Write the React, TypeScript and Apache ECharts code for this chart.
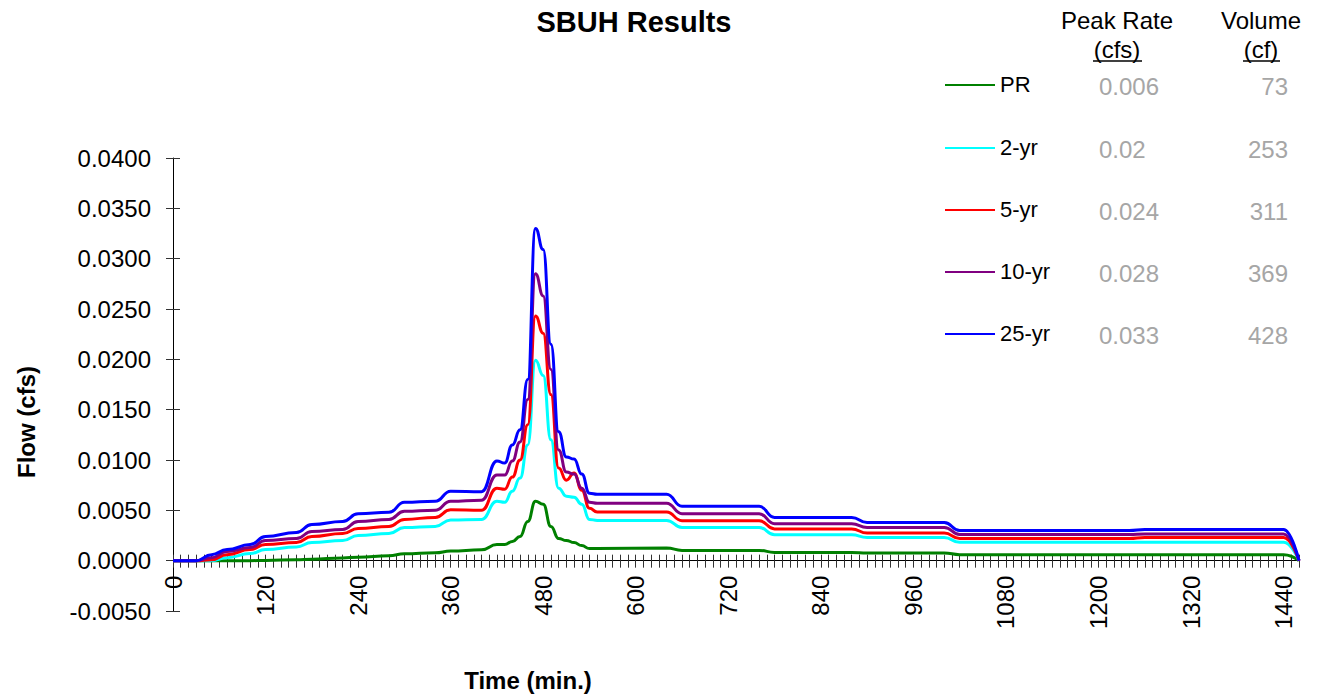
import React, { useEffect, useRef } from "react";
import * as echarts from "echarts";

const FONT = '"Liberation Sans", Arial, Helvetica, sans-serif';

// time (min.)
const TIME = [0, 30, 50, 70, 100, 120, 160, 180, 220, 240, 280, 300, 340, 360, 400, 420, 430, 440, 450, 460, 470, 480, 490, 500, 510, 520, 530, 540, 550, 640, 660, 760, 780, 880, 900, 1000, 1020, 1240, 1260, 1440, 1460];

// flow (cfs)
const PR = [0, 0, 0, 0, 0, 0.00002, 0.0001, 0.00015, 0.00026, 0.00035, 0.0005, 0.00068, 0.00078, 0.00095, 0.00108, 0.0016, 0.0016, 0.0019, 0.0024, 0.0039, 0.0059, 0.0056, 0.0034, 0.0022, 0.002, 0.0018, 0.0015, 0.0012, 0.00122, 0.00126, 0.00102, 0.00102, 0.00082, 0.00082, 0.00076, 0.00076, 0.0006, 0.0006, 0.0006, 0.0006, 0];
const YR2 = [0, 0, 0, 0.0003, 0.0007, 0.0011, 0.00136, 0.0018, 0.002, 0.0025, 0.0027, 0.0033, 0.0034, 0.00405, 0.0041, 0.0059, 0.0058, 0.0069, 0.0082, 0.0115, 0.0199, 0.0184, 0.012, 0.0072, 0.0064, 0.0063, 0.0056, 0.0041, 0.004, 0.004, 0.0033, 0.0033, 0.00258, 0.00258, 0.00231, 0.00231, 0.00182, 0.00182, 0.00182, 0.00182, 0];
const YR5 = [0, 0, 0.0001, 0.0006, 0.0011, 0.0016, 0.0018, 0.0024, 0.0027, 0.0032, 0.0034, 0.0041, 0.0043, 0.00505, 0.005, 0.0072, 0.0071, 0.0083, 0.01, 0.0135, 0.0243, 0.0226, 0.0165, 0.0092, 0.008, 0.0087, 0.007, 0.0052, 0.00483, 0.00483, 0.00397, 0.00397, 0.00315, 0.00315, 0.00275, 0.00275, 0.0022, 0.0022, 0.0023, 0.0023, 0];
const YR10 = [0, 0, 0.0003, 0.0009, 0.0013, 0.002, 0.0022, 0.0029, 0.0031, 0.0039, 0.0041, 0.0049, 0.005, 0.0059, 0.006, 0.0085, 0.0085, 0.0099, 0.0118, 0.016, 0.0285, 0.0263, 0.019, 0.011, 0.0088, 0.0086, 0.0072, 0.0058, 0.0057, 0.0057, 0.00467, 0.00467, 0.00367, 0.00367, 0.0033, 0.0033, 0.0026, 0.0026, 0.00265, 0.00265, 0];
const YR25 = [0, 0, 0.0006, 0.0011, 0.0016, 0.0024, 0.0028, 0.0036, 0.0039, 0.00465, 0.0048, 0.0058, 0.0059, 0.0069, 0.00685, 0.0099, 0.0097, 0.0115, 0.013, 0.018, 0.033, 0.0309, 0.0215, 0.0128, 0.0103, 0.0101, 0.0086, 0.0067, 0.0066, 0.0066, 0.0054, 0.0054, 0.0043, 0.0043, 0.0038, 0.0038, 0.003, 0.003, 0.0031, 0.0031, 0];

const SERIES_NAMES = ["PR", "2-yr", "5-yr", "10-yr", "25-yr"];
const SERIES_DATA = [PR, YR2, YR5, YR10, YR25];
const SERIES_COLORS = ["#008000", "#00ffff", "#ff0000", "#800080", "#0000ff"];
const PEAK_RATES = ["0.006", "0.02", "0.024", "0.028", "0.033"];
const VOLUMES = ["73", "253", "311", "369", "428"];

const LEGEND_Y = [85, 148, 210, 272, 334];

const Y_MIN = -0.005;
const Y_MAX = 0.04;
const GRID_TOP = 158;
const GRID_BOTTOM = 83;
const GRID_H = 694 - GRID_TOP - GRID_BOTTOM;
// shift of the x axis from the grid bottom up to the zero line
const ZERO_OFFSET = -((0 - Y_MIN) / (Y_MAX - Y_MIN)) * GRID_H;

function txt(text: string, x: number, y: number, size: number, opts: any = {}) {
  return {
    type: "text",
    x,
    y,
    rotation: opts.rotation || 0,
    silent: true,
    style: {
      text,
      fontFamily: FONT,
      fontSize: size,
      fontWeight: opts.bold ? "bold" : "normal",
      fill: opts.fill || "#000",
      align: opts.align || "left",
      textAlign: opts.align || "left",
      verticalAlign: "middle",
      textVerticalAlign: "middle",
    },
  };
}

export default function App() {
  const ref = useRef<HTMLDivElement>(null);

  useEffect(() => {
    if (!ref.current) return;
    const chart = echarts.init(ref.current, null, { renderer: "svg" });

    const graphic: any[] = [
      txt("SBUH Results", 634, 22, 29, { bold: true, align: "center" }),
      txt("Flow (cfs)", 26, 422, 24, { bold: true, align: "center", rotation: Math.PI / 2 }),
      txt("Time (min.)", 528, 680, 24, { bold: true, align: "center" }),
      txt("Peak Rate", 1117, 20, 24, { align: "center" }),
      txt("(cfs)", 1117, 49, 24, { align: "center" }),
      txt("Volume", 1261, 20, 24, { align: "center" }),
      txt("(cf)", 1261, 49, 24, { align: "center" }),
      { type: "line", silent: true, shape: { x1: 1093, y1: 61, x2: 1142, y2: 61 }, style: { stroke: "#000", lineWidth: 1.5 } },
      { type: "line", silent: true, shape: { x1: 1243, y1: 61, x2: 1280, y2: 61 }, style: { stroke: "#000", lineWidth: 1.5 } },
    ];
    SERIES_NAMES.forEach((name, i) => {
      const y = LEGEND_Y[i];
      graphic.push({
        type: "line",
        silent: true,
        shape: { x1: 945, y1: y, x2: 995, y2: y },
        style: { stroke: SERIES_COLORS[i], lineWidth: 2 },
      });
      graphic.push(txt(name, 1000, y - 1, 22));
      graphic.push(txt(PEAK_RATES[i], 1099, y + 1, 24, { fill: "#a6a6a6" }));
      graphic.push(txt(VOLUMES[i], 1288, y + 1, 24, { fill: "#a6a6a6", align: "right" }));
    });

    const tickColor = "#333";
    const xBase = {
      type: "value",
      min: 0,
      max: 1460,
      interval: 10,
      position: "bottom",
      offset: ZERO_OFFSET,
      splitLine: { show: false },
    };
    const yBase = {
      type: "value",
      min: Y_MIN,
      max: Y_MAX,
      interval: 0.005,
      position: "left",
      splitLine: { show: false },
    };

    chart.setOption({
      animation: false,
      backgroundColor: "#fff",
      grid: { left: 173, right: 23, top: GRID_TOP, bottom: GRID_BOTTOM, containLabel: false },
      xAxis: [
        {
          ...xBase,
          axisLine: { show: true, onZero: false, lineStyle: { color: "#000", width: 1 } },
          axisTick: { show: true, inside: false, length: 7, lineStyle: { color: tickColor, width: 1 } },
          axisLabel: {
            show: true,
            rotate: 90,
            margin: 15,
            color: "#000",
            fontFamily: FONT,
            fontSize: 24,
            showMinLabel: true,
            showMaxLabel: true,
            formatter: (v: number) => (Math.round(v) % 120 === 0 ? String(Math.round(v)) : ""),
          },
        },
        {
          ...xBase,
          axisLine: { show: false, onZero: false },
          axisTick: { show: true, inside: true, length: 6, lineStyle: { color: tickColor, width: 1 } },
          axisLabel: { show: false },
        },
      ],
      yAxis: [
        {
          ...yBase,
          axisLine: { show: true, onZero: false, lineStyle: { color: "#000", width: 1 } },
          axisTick: { show: true, inside: false, length: 7, lineStyle: { color: tickColor, width: 1 } },
          axisLabel: {
            show: true,
            margin: 22,
            color: "#000",
            fontFamily: FONT,
            fontSize: 24,
            formatter: (v: number) => v.toFixed(4),
          },
        },
        {
          ...yBase,
          axisLine: { show: false, onZero: false },
          axisTick: { show: true, inside: true, length: 7, lineStyle: { color: tickColor, width: 1 } },
          axisLabel: { show: false },
        },
      ],
      series: SERIES_NAMES.map((name, i) => ({
        name,
        type: "line",
        xAxisIndex: 0,
        yAxisIndex: 0,
        data: TIME.map((t, j) => [t, SERIES_DATA[i][j]]),
        showSymbol: false,
        symbol: "none",
        smooth: 0.5,
        smoothMonotone: "x",
        lineStyle: { color: SERIES_COLORS[i], width: 3 },
        itemStyle: { color: SERIES_COLORS[i] },
        z: 2 + i,
      })),
      graphic,
    });

    return () => chart.dispose();
  }, []);

  return (
    <div
      ref={ref}
      style={{ position: "fixed", left: 0, top: 0, width: 1322, height: 694, background: "#fff" }}
    />
  );
}
